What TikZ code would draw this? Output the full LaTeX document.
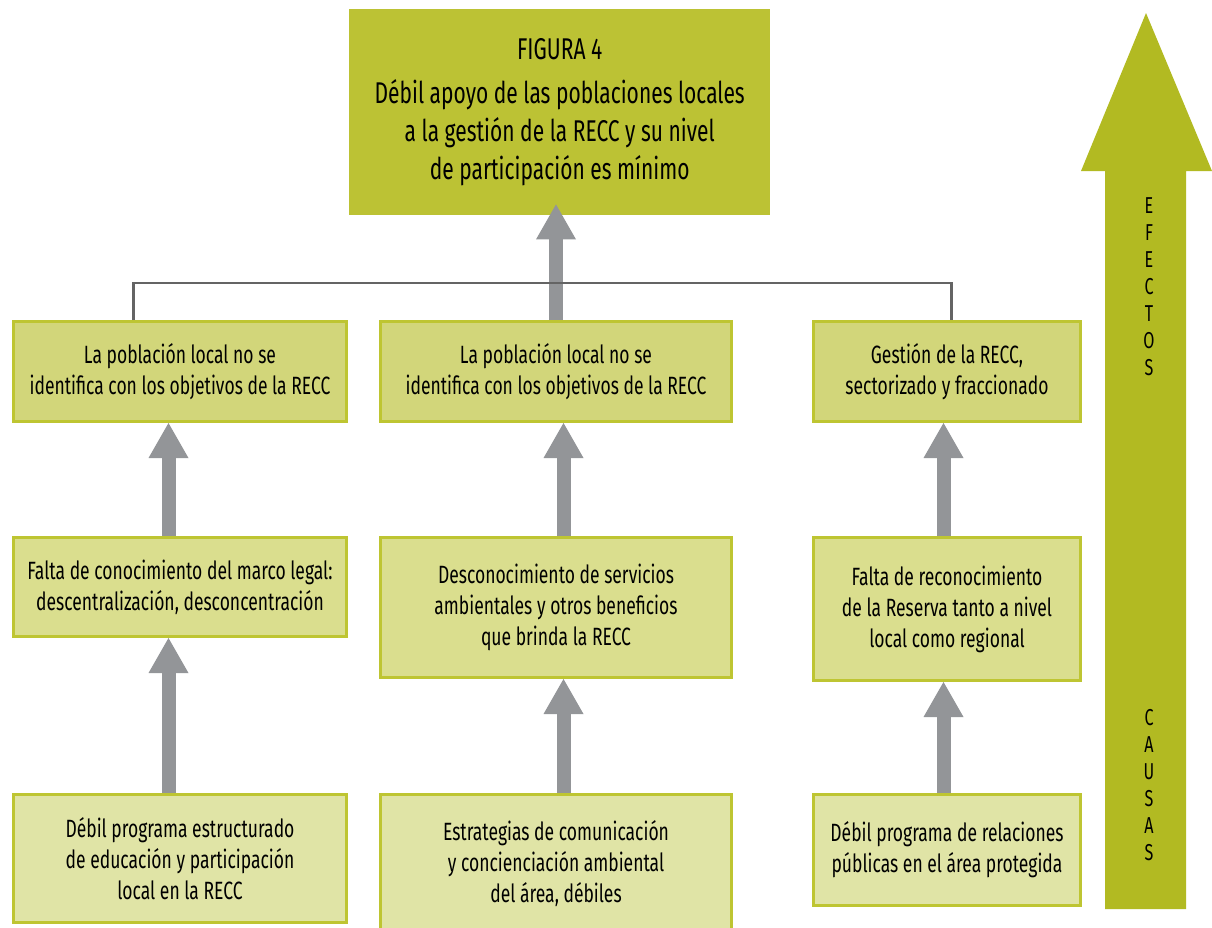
\documentclass[tikz,border=0pt]{standalone}
\usepackage{fontspec}
\setmainfont{Fira Sans}[FakeStretch=0.7]
\usetikzlibrary{arrows.meta}

\definecolor{oliva}{RGB}{188,194,52}
\definecolor{borde}{RGB}{190,197,50}
\definecolor{fondoa}{RGB}{210,214,122}
\definecolor{fondob}{RGB}{218,222,142}
\definecolor{fondoc}{RGB}{224,228,166}
\definecolor{verde}{RGB}{178,186,34}
\definecolor{gris}{RGB}{147,149,152}
\definecolor{linea}{RGB}{100,100,100}

\begin{document}
\begin{tikzpicture}[x=1pt, y=-1pt]
    \tikzstyle{caja} = [shape=rectangle, draw=borde, line width=3pt, align=center, anchor=north west, inner sep=0pt, font=\fontsize{25}{31}\selectfont]
    \tikzstyle{efecto} = [caja, fill=fondoa]
    \tikzstyle{medio} = [caja, fill=fondob]
    \tikzstyle{causa} = [caja, fill=fondoc]
    \tikzstyle{titulo} = [shape=rectangle, fill=oliva, align=center, anchor=north west, inner sep=0pt, font=\fontsize{30}{38}\selectfont]
    \tikzstyle{flecha} = [draw=gris, line width=14pt, -{Triangle[width=40pt, length=35pt, line width=0pt]}]
    \tikzstyle{enlace} = [draw=linea, line width=2.5pt]
    \tikzstyle{letras} = [align=center, font=\fontsize{23}{27}\selectfont]

    \useasboundingbox (0,0) rectangle (1212,927);

    % problema central
    \path   (349,9) node [titulo, minimum width=421pt, minimum height=206pt, name=t]
                {FIGURA 4\\[6pt]Débil apoyo de las poblaciones locales\\a la gestión de la RECC y su nivel\\de participación es mínimo};

    % efectos
    \path   (12,320) node [efecto, minimum width=333pt, minimum height=100pt, name=e1]
                {La población local no se\\identifica con los objetivos de la RECC}
            (379,320) node [efecto, minimum width=351pt, minimum height=100pt, name=e2]
                {La población local no se\\identifica con los objetivos de la RECC}
            (812,320) node [efecto, minimum width=267pt, minimum height=100pt, name=e3]
                {Gestión de la RECC,\\sectorizado y fraccionado};

    % causas directas
    \path   (12,536) node [medio, minimum width=333pt, minimum height=99pt, name=m1]
                {Falta de conocimiento del marco legal:\\descentralización, desconcentración}
            (379,536) node [medio, minimum width=351pt, minimum height=140pt, name=m2]
                {Desconocimiento de servicios\\ambientales y otros beneficios\\que brinda la RECC}
            (812,536) node [medio, minimum width=267pt, minimum height=143pt, name=m3]
                {Falta de reconocimiento\\de la Reserva tanto a nivel\\local como regional};

    % causas de fondo
    \path   (12,793) node [causa, minimum width=333pt, minimum height=128pt, name=c1]
                {Débil programa estructurado\\de educación y participación\\local en la RECC}
            (379,793) node [causa, minimum width=351pt, minimum height=138pt, name=c2]
                {Estrategias de comunicación\\y concienciación ambiental\\del área, débiles}
            (812,793) node [causa, minimum width=267pt, minimum height=111pt, name=c3]
                {Débil programa de relaciones\\públicas en el área protegida};

    % flechas
    \draw [flecha] (e2.north) -- ([yshift=11pt]e2.north |- t.south);
    \draw [flecha] ([xshift=-11.5pt]m1.north) -- ([xshift=-11.5pt]e1.south);
    \draw [flecha] ([xshift=-11.5pt]c1.north) -- ([xshift=-11.5pt]m1.south);
    \draw [flecha] ([xshift=7.5pt]m2.north) -- ([xshift=7.5pt]e2.south);
    \draw [flecha] ([xshift=7.5pt]c2.north) -- ([xshift=7.5pt]m2.south);
    \draw [flecha] ([xshift=-3.5pt]m3.north) -- ([xshift=-3.5pt]e3.south);
    \draw [flecha] ([xshift=-3.5pt]c3.north) -- ([xshift=-3.5pt]m3.south);

    \draw [enlace] ([xshift=-46.5pt]e1.north) -- ++(0,-37) -| ([xshift=4.5pt]e3.north);

    % flecha grande
    \fill [verde] (1105,909) -- (1105,171) -- (1081,171) -- (1146,13) -- (1212,171)
                  -- (1186,171) -- (1186,909) -- cycle;
    \path   (1149,287) node [letras, name=ef] {E\\F\\E\\C\\T\\O\\S}
            (1149,785) node [letras, name=ca] {C\\A\\U\\S\\A\\S};
\end{tikzpicture}
\end{document}
